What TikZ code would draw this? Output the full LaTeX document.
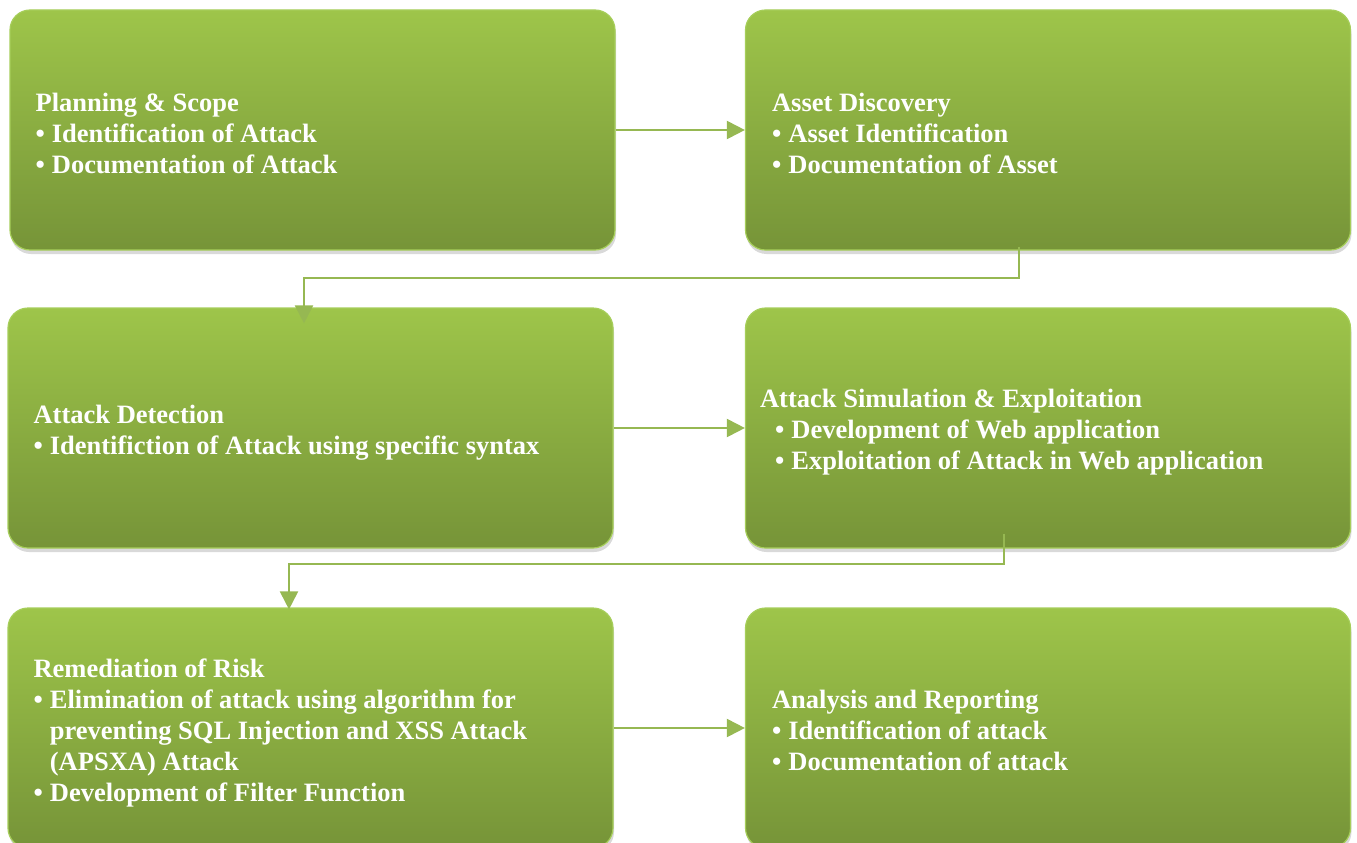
\documentclass[tikz,border=0pt]{standalone}
\usepackage{fontspec}
\setmainfont{Liberation Serif}
\usetikzlibrary{arrows.meta,shadows,calc}
\definecolor{gtop}{RGB}{158,197,74}
\definecolor{gbot}{RGB}{118,148,56}
\definecolor{gline}{RGB}{150,184,82}
\definecolor{gborder}{RGB}{166,206,90}
\newcommand\bul{\textbullet\hspace{7pt}}
\newcommand\myind{\phantom{\textbullet}\hspace{7pt}}
\begin{document}
\begin{tikzpicture}[x=1pt,y=-1pt,
  stagebox/.style={rounded corners=20pt, draw=gborder, line width=1.2pt,
    top color=gtop, bottom color=gbot,
    drop shadow={shadow xshift=1pt, shadow yshift=-4pt, opacity=0.3},
    minimum width=605pt, minimum height=240pt, inner sep=0pt},
  stagetext/.style={anchor=west, align=left, inner sep=0pt, text=white,
    font=\fontsize{26.5}{31}\selectfont\bfseries},
  flow/.style={draw=gline, line width=2pt, -{Triangle[length=18pt,width=18pt]}}
]
\useasboundingbox (0,0) rectangle (1357,843);

\node[stagebox] (b1) at (312.5,130) {};
\node[stagebox] (b2) at (1048,130) {};
\node[stagebox] (b3) at (310.5,428) {};
\node[stagebox] (b4) at (1048,428) {};
\node[stagebox] (b5) at (310.5,728) {};
\node[stagebox] (b6) at (1048,728) {};

\node[stagetext] (t1) at ($(b1.west)+(26,3)$) {Planning \& Scope\\ \bul Identification of Attack\\ \bul Documentation of Attack};
\node[stagetext] (t2) at ($(b2.west)+(27,3)$) {Asset Discovery\\ \bul Asset Identification\\ \bul Documentation of Asset};
\node[stagetext] (t3) at ($(b3.west)+(26,5)$) {Attack Detection\\ \bul Identifiction of Attack using specific syntax};
\node[stagetext] (t4) at ($(b4.west)+(15,4)$) {Attack Simulation \& Exploitation\\ \hspace*{15pt}\bul Development of Web application\\ \hspace*{15pt}\bul Exploitation of Attack in Web application};
\node[stagetext] (t5) at ($(b5.west)+(26,5)$) {Remediation of Risk\\ \bul Elimination of attack using algorithm for\\ \myind preventing SQL Injection and XSS Attack\\ \myind (APSXA) Attack\\ \bul Development of Filter Function};
\node[stagetext] (t6) at ($(b6.west)+(27,2)$) {Analysis and Reporting\\ \bul Identification of attack\\ \bul Documentation of attack};

\coordinate (k1) at (1019,278);
\coordinate (k2) at (304,278);
\coordinate (k3) at (1004,564);
\coordinate (k4) at (289,564);

\draw[flow] (b1) -- (b2);
\draw[flow] ($(b2.south -| k1)+(0,-4)$) -- (k1) -- (k2) -- ($(b3.north -| k2)+(0,16)$);
\draw[flow] (b3) -- (b4);
\draw[flow] ($(b4.south -| k3)+(0,-15)$) -- (k3) -- (k4) -- ($(b5.north -| k4)+(0,2)$);
\draw[flow] (b5) -- (b6);
\end{tikzpicture}
\end{document}
